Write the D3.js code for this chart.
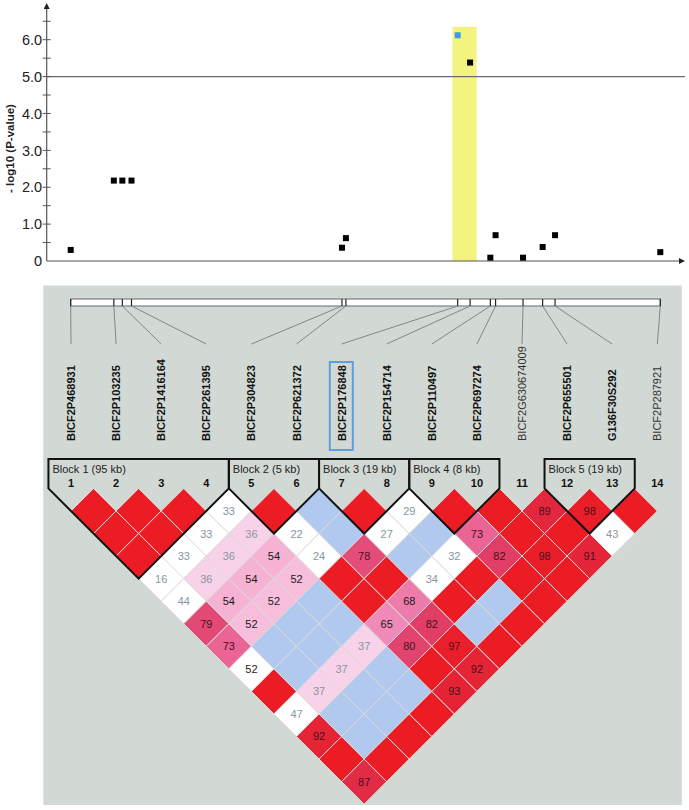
<!DOCTYPE html>
<html><head><meta charset="utf-8">
<script src="https://cdn.jsdelivr.net/npm/d3@7/dist/d3.min.js"></script>
<style>
html,body{margin:0;padding:0;background:#fff;}
svg{display:block;font-family:"Liberation Sans",Arial,sans-serif;}
</style></head>
<body>
<svg id="c" width="689" height="810"></svg>
<script>
// ---------- data ----------
const markerNames = ["BICF2P468931","BICF2P103235","BICF2P1416164","BICF2P261395","BICF2P304823","BICF2P621372","BICF2P176848","BICF2P154714","BICF2P110497","BICF2P697274","BICF2G630674009","BICF2P655501","G136F30S292","BICF2P287921"];
const markerBold = [1,1,1,1,1,1,1,1,1,1,0,1,1,0];
const markerPosKb = [0,66,79,93,415,421,592,611,642,650,692,722,741,902];
const negLogP = [0.30,2.18,2.18,2.18,0.36,0.62,6.12,5.38,0.09,0.70,0.09,0.38,0.70,0.24];
const highlightMarker = 7;               // blue point / boxed label
const highlightKb = [584, 621];          // yellow band
const highlightTop = 6.35;
const threshold = 5.0;
const yTicks = [0,1,2,3,4,5,6];
const yMinorTicks = [0.5,1.5,2.5,3.5,4.5,5.5,6.5];
const blocks = [
  {label:"Block 1 (95 kb)", start:1, end:4},
  {label:"Block 2 (5 kb)",  start:5, end:6},
  {label:"Block 3 (19 kb)", start:7, end:8},
  {label:"Block 4 (8 kb)",  start:9, end:10},
  {label:"Block 5 (19 kb)", start:12, end:13}
];
// LD rows: row i lists pairs (i, i+1 ... 14). R = D'=1 strong, B = D'=1 weak,
// W = weak (white, grey number), K = white with dark number, L = light pink, P = pink scaled by D'
const ldRows = [
  "R R R W16 W44 P79 P73 K52 R W47 P92 R P87",
  "R R W33 L36 P54 P52 B B L37 B B R",
  "R W33 L36 P54 P52 B B L37 B B R",
  "W33 L36 P54 P52 B B L37 B B R",
  "R W22 W24 R R P65 P80 R P93",
  "B B P78 R P68 P82 P97 P92",
  "R W27 B W34 R B R",
  "W29 B W32 R B R",
  "R P73 P82 R R",
  "R R P98 R",
  "P89 R P91",
  "P98 W43",
  "R"
];

// ---------- drawing ----------
const svg = d3.select("#c");
const axisCol = "#555";

// top plot
const x = d3.scaleLinear().domain([0, 902]).range([70.7, 660.3]);
const y = d3.scaleLinear().domain([0, 6]).range([261, 39.7]);
const x0 = 46.7;

svg.append("rect").attr("x", x(highlightKb[0])).attr("y", y(highlightTop))
  .attr("width", x(highlightKb[1]) - x(highlightKb[0])).attr("height", y(0) - y(highlightTop))
  .attr("fill", "#f3f47e");

svg.append("line").attr("x1", x0).attr("x2", 685).attr("y1", y(threshold)).attr("y2", y(threshold))
  .attr("stroke", "#6a6a6a").attr("stroke-width", 1.2);

// axes
svg.append("line").attr("x1", x0).attr("x2", x0).attr("y1", y(0)).attr("y2", 8).attr("stroke", axisCol).attr("stroke-width", 1.2);
svg.append("path").attr("d", `M${x0-3},9 L${x0+3},9 L${x0},3 Z`).attr("fill", "#222");
svg.append("line").attr("x1", x0).attr("x2", 680).attr("y1", y(0)).attr("y2", y(0)).attr("stroke", axisCol).attr("stroke-width", 1.2);
svg.append("path").attr("d", `M679,${y(0)-3} L679,${y(0)+3} L685,${y(0)} Z`).attr("fill", "#222");

yTicks.concat(yMinorTicks).forEach(t => {
  if (t === 0) return;
  svg.append("line").attr("x1", x0 - 4).attr("x2", x0 + 4).attr("y1", y(t)).attr("y2", y(t))
    .attr("stroke", axisCol).attr("stroke-width", 1);
});
svg.selectAll("text.yt").data(yTicks).enter().append("text")
  .attr("x", x0 - 4.5).attr("y", d => y(d)).attr("dy", "0.36em")
  .attr("text-anchor", "end").attr("font-size", 14.5).attr("fill", "#222")
  .text(d => d === 0 ? "0" : d.toFixed(1));

svg.append("text").attr("transform", `translate(14,${y(3.05)}) rotate(-90)`)
  .attr("text-anchor", "middle").attr("font-size", 11.5).attr("font-weight", "bold").attr("fill", "#222")
  .text("- log10 (P-value)");

svg.selectAll("rect.pt").data(negLogP).enter().append("rect")
  .attr("x", (d, i) => x(markerPosKb[i]) - 3).attr("y", d => y(d) - 3)
  .attr("width", 6).attr("height", 6)
  .attr("fill", (d, i) => i + 1 === highlightMarker ? "#3d9ce0" : "#000");

// lower panel
svg.append("rect").attr("x", 43.3).attr("y", 285.5).attr("width", 638.5).attr("height", 519.5).attr("fill", "#d2d9d4");

const barY0 = 299, barY1 = 306, labY = 344;
svg.append("rect").attr("x", x(0)).attr("y", barY0).attr("width", x(902) - x(0)).attr("height", barY1 - barY0)
  .attr("fill", "#fff").attr("stroke", "#667").attr("stroke-width", 1);
const xm = d3.scaleLinear().domain([1, 14]).range([71, 657.3]);
markerPosKb.forEach((p, i) => {
  svg.append("line").attr("x1", x(p)).attr("x2", x(p)).attr("y1", barY0).attr("y2", barY1).attr("stroke", "#222").attr("stroke-width", 1.2);
  svg.append("line").attr("x1", x(p)).attr("x2", xm(i + 1)).attr("y1", barY1).attr("y2", labY).attr("stroke", "#7d8886").attr("stroke-width", 1);
});
svg.selectAll("text.mk").data(markerNames).enter().append("text")
  .attr("transform", (d, i) => `translate(${xm(i + 1) + 4},441) rotate(-90)`)
  .attr("font-size", 11).attr("font-weight", (d, i) => markerBold[i] ? "bold" : "normal")
  .attr("fill", (d, i) => markerBold[i] ? "#111" : "#333")
  .text(d => d);
svg.append("rect").attr("x", xm(highlightMarker) - 11.8).attr("y", 362).attr("width", 23).attr("height", 88)
  .attr("fill", "none").attr("stroke", "#5a9fe0").attr("stroke-width", 2);

// LD diamonds
const h = (xm(2) - xm(1)) / 2;
const cy0 = 511;
const pinkScale = d3.scaleLinear().domain([52, 54, 65, 73, 80, 88, 100])
  .range(["#f7bedb", "#f5b2d2", "#f08ab8", "#ea6494", "#e24470", "#e2283f", "#ec1c24"]);
const cells = [];
ldRows.forEach((row, r) => {
  row.split(" ").forEach((tok, k) => {
    const i = r + 1, j = i + 1 + k;
    const type = tok[0], val = tok.length > 1 ? +tok.slice(1) : null;
    cells.push({i, j, type, val});
  });
});
function fillOf(c) {
  if (c.type === "R") return "#ec1c24";
  if (c.type === "B") return "#b1c8ef";
  if (c.type === "W" || c.type === "K") return "#ffffff";
  if (c.type === "L") return "#f8d2e8";
  return pinkScale(c.val);
}
const cg = svg.append("g");
cg.selectAll("path").data(cells).enter().append("path")
  .attr("d", c => {
    const cx = (xm(c.i) + xm(c.j)) / 2, cy = cy0 + (c.j - c.i - 1) * h;
    return `M${cx},${cy - h} L${cx + h},${cy} L${cx},${cy + h} L${cx - h},${cy} Z`;
  })
  .attr("fill", fillOf).attr("stroke", "#dcdcdc").attr("stroke-width", 1);
cg.selectAll("text").data(cells.filter(c => c.val !== null)).enter().append("text")
  .attr("x", c => (xm(c.i) + xm(c.j)) / 2).attr("y", c => cy0 + (c.j - c.i - 1) * h)
  .attr("dy", "0.36em").attr("text-anchor", "middle").attr("font-size", 11)
  .attr("fill", c => (c.type === "W" || c.type === "L") ? "#8597a0" : (c.val >= 70 ? "#4a0f1e" : "#1a1a1a"))
  .text(c => c.val);

// block outlines
const headTop = 459, triTop = cy0 - h;
blocks.forEach(b => {
  const xl = xm(b.start) - h, xr = xm(b.end) + h;
  const bx = (xm(b.start) + xm(b.end)) / 2, by = triTop + (b.end - b.start + 1) * h;
  svg.append("path").attr("d", `M${xl},${triTop} L${xl},${headTop} L${xr},${headTop} L${xr},${triTop} L${bx},${by} Z`)
    .attr("fill", "none").attr("stroke", "#111").attr("stroke-width", 2).attr("stroke-linejoin", "miter");
  svg.append("text").attr("x", xl + 4).attr("y", 473).attr("font-size", 11).attr("fill", "#222").text(b.label);
});
svg.selectAll("text.num").data(markerNames).enter().append("text")
  .attr("x", (d, i) => xm(i + 1)).attr("y", 487).attr("text-anchor", "middle")
  .attr("font-size", 11).attr("font-weight", "bold").attr("fill", "#111")
  .text((d, i) => i + 1);
</script>
</body></html>
